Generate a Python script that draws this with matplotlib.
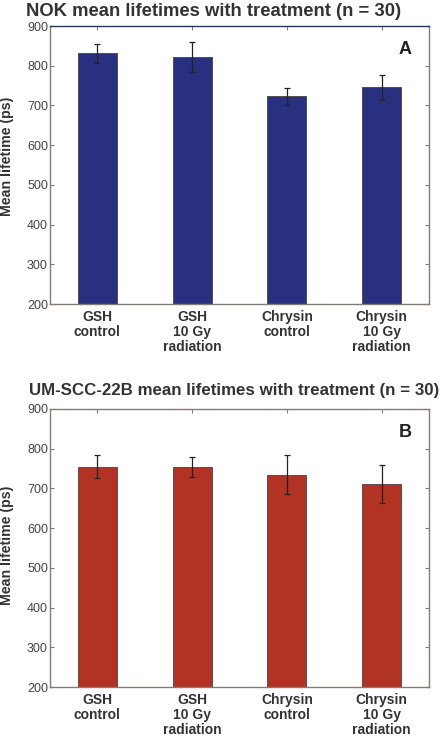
import numpy as np
import matplotlib
matplotlib.use("Agg")
import matplotlib.pyplot as plt

plt.rcParams["font.family"] = ["Liberation Sans", "DejaVu Sans"]

# Data
CATEGORIES = ["GSH\ncontrol", "GSH\n10 Gy\nradiation", "Chrysin\ncontrol", "Chrysin\n10 Gy\nradiation"]

NOK_MEANS = [831, 822, 723, 746]
NOK_ERRORS = [23, 38, 21, 31]

UM_MEANS = [755, 754, 734, 711]
UM_ERRORS = [29, 24, 49, 47]

TITLES = [
    "NOK mean lifetimes with treatment (n = 30)",
    "UM-SCC-22B mean lifetimes with treatment (n = 30)",
]
PANEL_LETTERS = ["A", "B"]
BAR_COLORS = ["#29307f", "#b23324"]

SPINE_COLOR = "#857a74"
TEXT_COLOR = "#333333"


def draw_panel(ax, means, errors, color, letter, top_spine):
    x = np.arange(1, len(means) + 1)
    ax.bar(x, np.array(means) - 200, width=0.41, bottom=200, color=color,
           edgecolor="#4a4040", linewidth=0.6, zorder=2)
    ax.errorbar(x, means, yerr=errors, fmt="none", ecolor="#222222",
                elinewidth=0.9, capsize=2.5, capthick=0.9, zorder=3)

    ax.set_xlim(0.5, 4.5)
    ax.set_ylim(200, 900)
    ax.set_yticks(np.arange(200, 901, 100))
    ax.set_xticks(x)
    ax.set_xticklabels(CATEGORIES, fontsize=10, fontweight="bold",
                       color=TEXT_COLOR, linespacing=1.1)
    ax.tick_params(direction="in", top=True, right=True, length=3,
                   width=0.8, color=SPINE_COLOR)
    ax.tick_params(axis="y", labelsize=9, labelcolor="#444444", pad=1.5)
    ax.tick_params(axis="x", pad=4)

    for spine in ax.spines.values():
        spine.set_color(SPINE_COLOR)
        spine.set_linewidth(1.0)
    ax.spines["top"].set_color(top_spine)

    ax.set_ylabel("Mean lifetime (ps)", fontsize=10.2, fontweight="bold",
                  color=TEXT_COLOR)
    ax.text(0.937, 0.917, letter, transform=ax.transAxes, fontsize=13,
            fontweight="bold", color="#222222", ha="center", va="center")


def main():
    fig = plt.figure(figsize=(4.43, 7.38), dpi=100)
    ax_top = fig.add_axes([0.1129, 0.588, 0.8555, 0.3767])
    ax_bot = fig.add_axes([0.1129, 0.0691, 0.8555, 0.3767])

    draw_panel(ax_top, NOK_MEANS, NOK_ERRORS, BAR_COLORS[0], PANEL_LETTERS[0], "#2c3552")
    draw_panel(ax_bot, UM_MEANS, UM_ERRORS, BAR_COLORS[1], PANEL_LETTERS[1], SPINE_COLOR)

    ax_top.yaxis.set_label_coords(-0.094, 0.532)
    ax_bot.yaxis.set_label_coords(-0.094, 0.51)

    fig.text(214 / 443, 1 - 11 / 738, TITLES[0], fontsize=13.3, fontweight="bold",
             color=TEXT_COLOR, ha="center", va="center")
    fig.text(234 / 443, 1 - 390 / 738, TITLES[1], fontsize=12.2, fontweight="bold",
             color=TEXT_COLOR, ha="center", va="center")

    fig.savefig("out.png", dpi=100)


if __name__ == "__main__":
    main()
